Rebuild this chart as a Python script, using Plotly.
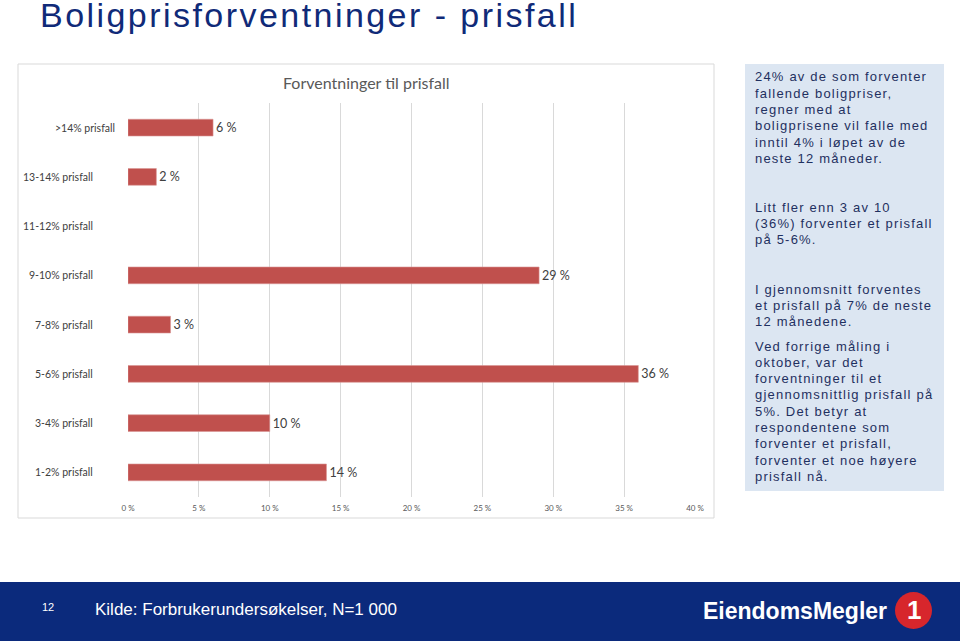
import json
import plotly.graph_objects as go

# ---- data ----
categories = ["1-2% prisfall", "3-4% prisfall", "5-6% prisfall", "7-8% prisfall",
              "9-10% prisfall", "11-12% prisfall", "13-14% prisfall", ">14% prisfall"]
values = [14, 10, 36, 3, 29, None, 2, 6]
x_ticks = [0, 5, 10, 15, 20, 25, 30, 35, 40]

page_title = "Boligprisforventninger - prisfall"
chart_title = "Forventninger til prisfall"
side_paragraphs = [
    ["24% av de som forventer", "fallende boligpriser,", "regner med at",
     "boligprisene vil falle med", "inntil 4% i løpet av de", "neste 12 måneder."],
    ["Litt fler enn 3 av 10", "(36%) forventer et prisfall", "på 5-6%."],
    ["I gjennomsnitt forventes", "et prisfall på 7% de neste", "12 månedene."],
    ["Ved forrige måling i", "oktober, var det", "forventninger til et",
     "gjennomsnittlig prisfall på", "5%. Det betyr at", "respondentene som",
     "forventer et prisfall,", "forventer et noe høyere", "prisfall nå."],
]
footer_page = "12"
footer_source = "Kilde: Forbrukerundersøkelser, N=1 000"
logo_text = "EiendomsMegler"

# ---- layout helpers (pixel -> paper) ----
W, H = 960, 644
PL, PR, PT, PB = 128, 695, 103, 497


def px(x):
    return (x - PL) / (PR - PL)


def py(y):
    return (PB - y) / (PB - PT)


labels = ["" if v is None else f"{v} %" for v in values]

fig = go.Figure(go.Bar(
    x=values, y=categories, orientation="h",
    marker=dict(color="#c0504d", line=dict(color="#d99694", width=0.6)),
    width=0.34,
    text=labels, textposition="outside", cliponaxis=False,
    textfont=dict(family="Lato", size=12.5, color="#404040"),
    hoverinfo="skip",
))

fig.update_layout(
    width=W, height=H,
    margin=dict(l=PL, r=W - PR, t=PT, b=H - PB),
    paper_bgcolor="white", plot_bgcolor="white",
    showlegend=False,
    xaxis=dict(range=[0, 40], tickvals=x_ticks, ticktext=[f"{t} %" for t in x_ticks],
               showgrid=True, gridcolor="#d9d9d9", gridwidth=1, zeroline=False,
               showline=False, ticks="", ticklabelstandoff=5,
               tickfont=dict(family="Lato", size=8, color="#595959"),
               fixedrange=True),
    yaxis=dict(categoryorder="array", categoryarray=categories, range=[-0.5, 7.5],
               showgrid=False, zeroline=False, showline=False, ticks="",
               showticklabels=False, fixedrange=True),
)

shapes = []
annotations = []
spacing = {}  # annotation index -> letter spacing (px)

# category labels (the top one sits further right in the original)
for cat in categories:
    right_edge = 117 if cat.startswith(">") else 95
    annotations.append(dict(text=cat, xref="paper", yref="y", x=px(right_edge), y=cat,
                            xanchor="right", yanchor="middle", showarrow=False,
                            font=dict(family="Lato", size=10.5, color="#404040")))

# chart frame
shapes.append(dict(type="rect", xref="paper", yref="paper", x0=px(18), x1=px(714),
                   y0=py(518), y1=py(64), line=dict(color="#d9d9d9", width=1),
                   fillcolor="rgba(0,0,0,0)", layer="below"))
# right text box
shapes.append(dict(type="rect", xref="paper", yref="paper", x0=px(745), x1=px(944),
                   y0=py(491), y1=py(64), line=dict(width=0), fillcolor="#dce6f2",
                   layer="below"))
# footer band
shapes.append(dict(type="rect", xref="paper", yref="paper", x0=px(0), x1=px(960),
                   y0=py(641), y1=py(582), line=dict(width=0), fillcolor="#0b2a7c",
                   layer="above"))
# logo circle
shapes.append(dict(type="circle", xref="paper", yref="paper", x0=px(895), x1=px(932),
                   y0=py(629), y1=py(592), line=dict(width=0), fillcolor="#d7262c",
                   layer="above"))

spacing[len(annotations)] = 2.45
annotations.append(dict(text=page_title, xref="paper", yref="paper", x=px(38), y=py(15),
                        xanchor="left", yanchor="middle", align="left", showarrow=False,
                        font=dict(family="Liberation Sans", size=34, color="#102a78")))
annotations.append(dict(text=chart_title, xref="paper", yref="paper", x=px(366), y=py(82),
                        xanchor="center", yanchor="middle", showarrow=False,
                        font=dict(family="Lato", size=16, color="#595959")))

para_tops = [77, 207, 289, 346]
line_h = 16.3
for top, para in zip(para_tops, side_paragraphs):
    for i, line in enumerate(para):
        spacing[len(annotations)] = 1.2
        annotations.append(dict(text=line, xref="paper", yref="paper", x=px(753),
                                y=py(top + i * line_h), xanchor="left", yanchor="middle",
                                align="left", showarrow=False,
                                font=dict(family="Liberation Sans", size=13, color="#1f3060")))

annotations.append(dict(text=footer_page, xref="paper", yref="paper", x=px(48), y=py(607),
                        xanchor="center", yanchor="middle", showarrow=False,
                        font=dict(family="Liberation Sans", size=11, color="white")))
annotations.append(dict(text=footer_source, xref="paper", yref="paper", x=px(93), y=py(609),
                        xanchor="left", yanchor="middle", align="left", showarrow=False,
                        font=dict(family="Liberation Sans", size=17, color="white")))
annotations.append(dict(text=f"<b>{logo_text}</b>", xref="paper", yref="paper", x=px(889),
                        y=py(611), xanchor="right", yanchor="middle", showarrow=False,
                        font=dict(family="Liberation Sans", size=23, color="white")))
annotations.append(dict(text="<b>1</b>", xref="paper", yref="paper", x=px(913.5), y=py(610),
                        xanchor="center", yanchor="middle", showarrow=False,
                        font=dict(family="Liberation Sans", size=26, color="white")))

fig.update_layout(shapes=shapes, annotations=annotations)

post = """
document.body.style.margin = '0';
var sp = %s;
var gd = document.getElementsByClassName('plotly-graph-div')[0];
function applySpacing() {
  var groups = gd.querySelectorAll('g.annotation');
  groups.forEach(function(g) {
    var idx = g.getAttribute('data-index');
    if (sp[idx] !== undefined) {
      g.querySelectorAll('text').forEach(function(t) {
        t.style.letterSpacing = sp[idx] + 'px';
      });
    }
  });
}
applySpacing();
if (gd.on) { gd.on('plotly_afterplot', applySpacing); }
""" % json.dumps({str(k): v for k, v in spacing.items()})

fig.write_html("out.html", post_script=post, config={"displayModeBar": False})
